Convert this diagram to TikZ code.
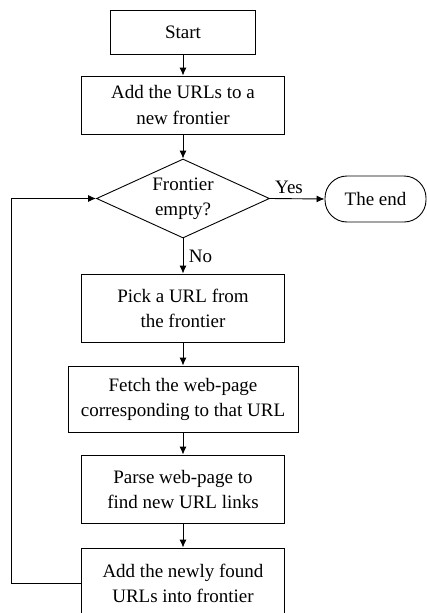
\documentclass[tikz,border=0pt]{standalone}
\usepackage{fontspec}
\setmainfont{Liberation Serif}
\usetikzlibrary{arrows.meta,shapes.geometric}

\begin{document}
\begin{tikzpicture}[x=1pt, y=-1pt, >={Latex[length=8pt,width=7pt]},
    line width=0.9pt,
    font=\fontsize{19}{25}\selectfont,
    stepbox/.style={draw, rectangle, align=center, inner sep=0pt,
      minimum width=203pt, minimum height=68pt},
    decbox/.style={draw, diamond, aspect=2.2, align=center, inner sep=0pt,
      minimum width=173pt, minimum height=79pt},
    endbox/.style={draw, rectangle, rounded corners=22pt, align=center,
      inner sep=0pt, minimum width=101pt, minimum height=46pt}]
    \pgfmathsetmacro{\cx}{183}
    \useasboundingbox (0,0) rectangle (427,613);
    \node[stepbox, minimum width=145pt, minimum height=44pt] (start) at (\cx,32) {Start};
    \node[stepbox, minimum height=58pt] (addurls) at (\cx,105) {Add the URLs to a\\new frontier};
    \node[decbox] (empty) at (\cx,198.5) {Frontier\\empty?};
    \node[endbox] (theend) at (375.5,199) {The end};
    \node[stepbox] (pick) at (\cx,308) {Pick a URL from\\the frontier};
    \node[stepbox, minimum width=230pt, minimum height=66pt] (fetch) at (\cx,399) {Fetch the web-page\\corresponding to that URL};
    \node[stepbox] (parse) at (\cx,489) {Parse web-page to\\find new URL links};
    \node[stepbox, minimum height=70pt] (addnew) at (\cx,583) {Add the newly found\\URLs into frontier};
    \draw[->] (start) -- (addurls);
    \draw[->] (addurls) -- (empty);
    \draw[->] (empty.east) -- (theend.west) node[pos=0.35, above=1pt] (yes) {Yes};
    \draw[->] (empty.south) -- (pick.north) node[midway, right=2pt] (no) {No};
    \draw[->] (pick) -- (fetch);
    \draw[->] (fetch) -- (parse);
    \draw[->] (parse) -- (addnew);
    \draw[->] (addnew.west) -- ++(-70,0) |- (empty.west);
\end{tikzpicture}
\end{document}
